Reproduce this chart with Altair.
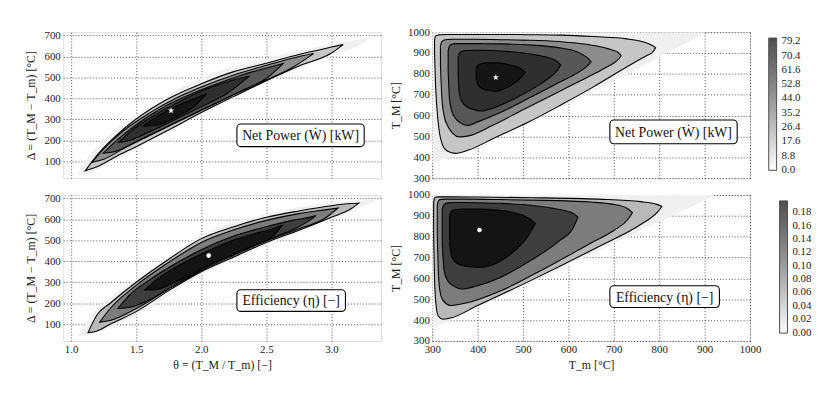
import altair as alt
import pandas as pd

FONT = "Liberation Serif"

# ---------------- Top-left: net power, theta vs Delta ----------------
tl_halo_x  = [1.05, 1.12, 1.3, 1.6, 2.0, 2.5, 3.0, 3.2, 3.3]
tl_halo_hi = [35, 110, 230, 360, 500, 590, 660, 680, 690]
tl_halo_lo = [35, 40, 90, 195, 325, 475, 605, 650, 690]
tl_c1_x  = [1.11, 1.2, 1.35, 1.5, 1.75, 2.0, 2.25, 2.5, 2.75, 3.0, 3.09]
tl_c1_hi = [56, 130, 225, 302, 400, 470, 528, 568, 610, 645, 657]
tl_c1_lo = [56, 75, 125, 170, 250, 333, 410, 485, 555, 617, 657]
tl_c2_x  = [1.16, 1.25, 1.4, 1.6, 1.8, 2.0, 2.25, 2.5, 2.7, 2.862]
tl_c2_hi = [95, 160, 245, 330, 400, 455, 512, 558, 592, 614]
tl_c2_lo = [95, 110, 160, 222, 283, 343, 418, 488, 548, 614]
tl_c3_x  = [1.248, 1.35, 1.5, 1.7, 1.9, 2.1, 2.3, 2.5, 2.63]
tl_c3_hi = [139, 200, 275, 355, 415, 465, 510, 545, 567]
tl_c3_lo = [139, 150, 195, 255, 315, 375, 435, 495, 567]
tl_c4_x  = [1.362, 1.45, 1.6, 1.8, 2.0, 2.2, 2.37]
tl_c4_hi = [190, 240, 305, 375, 435, 480, 507]
tl_c4_lo = [190, 200, 240, 300, 360, 425, 507]
tl_c5_x  = [1.55, 1.65, 1.8, 1.95, 2.04]
tl_c5_hi = [268, 310, 360, 400, 422]
tl_c5_lo = [268, 272, 310, 365, 422]
tl_star = (1.768, 342)

# ---------------- Bottom-left: efficiency, theta vs Delta ----------------
bl_halo_x  = [1.06, 1.12, 1.3, 1.6, 2.0, 2.5, 3.0, 3.25, 3.35]
bl_halo_hi = [45, 110, 225, 355, 525, 625, 680, 690, 695]
bl_halo_lo = [45, 48, 85, 180, 335, 475, 600, 665, 695]
bl_c1_x  = [1.13, 1.2, 1.3, 1.5, 1.75, 2.0, 2.25, 2.5, 2.75, 3.0, 3.15, 3.21]
bl_c1_hi = [60, 145, 200, 300, 410, 508, 565, 610, 640, 665, 675, 677]
bl_c1_lo = [60, 68, 100, 160, 260, 350, 420, 490, 548, 610, 650, 677]
bl_c2_x  = [1.22, 1.3, 1.5, 1.75, 2.0, 2.25, 2.5, 2.75, 2.95, 3.05]
bl_c2_hi = [110, 175, 285, 395, 490, 550, 595, 627, 645, 654]
bl_c2_lo = [110, 118, 175, 268, 355, 428, 497, 555, 605, 654]
bl_c3_x  = [1.36, 1.45, 1.6, 1.75, 2.0, 2.25, 2.5, 2.7, 2.82, 2.88]
bl_c3_hi = [175, 240, 310, 370, 455, 520, 565, 595, 608, 618]
bl_c3_lo = [175, 180, 215, 270, 360, 435, 500, 550, 590, 618]
bl_c4_x  = [1.565, 1.65, 1.8, 2.0, 2.2, 2.4, 2.55, 2.62]
bl_c4_hi = [263, 310, 370, 435, 490, 530, 555, 570]
bl_c4_lo = [263, 265, 300, 365, 420, 475, 520, 570]
bl_dot = (2.057, 427)

# ---------------- Top-right: net power, T_m vs T_M ----------------
tr_halo_x  = [300, 330, 900]
tr_halo_hi = [1000, 1000, 1000]
tr_halo_lo = [370, 395, 995]
tr_c1_x  = [305, 307, 310, 315, 322, 333, 351, 380, 438, 511, 584, 656, 729, 770, 786, 792]
tr_c1_hi = [960, 982, 985, 987, 988, 989, 989, 989, 989, 988, 986, 979, 968, 950, 935, 926]
tr_c1_lo = [900, 760, 640, 530, 462, 430, 419, 435, 494, 568, 652, 739, 834, 885, 905, 926]
tr_c2_x  = [318, 321, 326, 334, 345, 360, 380, 430, 500, 580, 640, 680, 700, 712, 716]
tr_c2_hi = [935, 955, 962, 965, 966, 966, 966, 965, 962, 955, 942, 925, 912, 898, 887]
tr_c2_lo = [840, 690, 600, 550, 515, 498, 503, 550, 628, 716, 782, 827, 852, 875, 887]
tr_c3_x  = [335, 338, 343, 350, 362, 378, 400, 450, 520, 580, 620, 640, 650]
tr_c3_hi = [910, 935, 942, 945, 945, 945, 945, 944, 938, 925, 905, 880, 858]
tr_c3_lo = [810, 680, 620, 590, 565, 553, 570, 615, 692, 760, 805, 835, 858]
tr_c4_x  = [357, 360, 366, 375, 390, 405, 430, 480, 530, 560, 575, 583]
tr_c4_hi = [880, 900, 908, 912, 913, 913, 912, 905, 890, 875, 860, 843]
tr_c4_lo = [790, 700, 665, 645, 630, 622, 633, 680, 740, 785, 815, 843]
tr_c5_x  = [397, 400, 410, 425, 440, 460, 480, 495, 505]
tr_c5_hi = [825, 840, 850, 853, 853, 848, 838, 825, 808]
tr_c5_lo = [775, 752, 730, 720, 717, 730, 755, 782, 808]
tr_star = (440, 783)

# ---------------- Bottom-right: efficiency, T_m vs T_M ----------------
br_halo_x  = [300, 320, 920]
br_halo_hi = [1000, 1000, 1000]
br_halo_lo = [360, 380, 995]
br_c1_x  = [303, 305, 308, 313, 324, 340, 400, 520, 665, 760, 795, 806]
br_c1_hi = [960, 985, 990, 991, 991, 991, 990, 987, 980, 968, 955, 945]
br_c1_lo = [800, 600, 480, 420, 404, 410, 470, 593, 751, 860, 915, 945]
br_c2_x  = [311, 314, 320, 330, 342, 380, 450, 550, 650, 700, 730, 741]
br_c2_hi = [950, 974, 979, 980, 980, 980, 978, 974, 966, 955, 935, 915]
br_c2_lo = [820, 600, 510, 480, 470, 485, 540, 650, 770, 830, 880, 915]
br_c3_x  = [322, 326, 335, 350, 364, 400, 450, 520, 580, 610, 621]
br_c3_hi = [935, 955, 962, 964, 964, 963, 960, 950, 930, 912, 894]
br_c3_lo = [760, 640, 585, 560, 549, 565, 605, 690, 780, 840, 894]
br_c4_x  = [338, 342, 350, 370, 404, 440, 480, 510, 527]
br_c4_hi = [900, 922, 930, 932, 932, 928, 915, 892, 864]
br_c4_lo = [770, 710, 680, 660, 653, 672, 730, 800, 864]
br_dot = (404, 832)

# colour bars
power_ticks = [0.0, 8.8, 17.6, 26.4, 35.2, 44.0, 52.8, 61.6, 70.4, 79.2]
power_dom = [-0.3, 81.2]
eff_ticks = [0.00, 0.02, 0.04, 0.06, 0.08, 0.10, 0.12, 0.14, 0.16, 0.18]
eff_dom = [-0.0008, 0.197]

power_fills = ["#c6c6c6", "#8c8c8c", "#575757", "#2f2f2f", "#151515"]
eff_fills = ["#b9b9b9", "#7c7c7c", "#3e3e3e", "#141414"]

STAR = ("M0,-1L0.2245,-0.309L0.951,-0.309L0.363,0.118L0.588,0.809L0,0.382"
        "L-0.588,0.809L-0.363,0.118L-0.951,-0.309L-0.2245,-0.309Z")

W, H = 322, 148


def mk_axis(values, fmt, title, labels, extent, title_pad, orient):
    kw = dict(values=values, grid=True, gridDash=[1, 2], gridColor="#222",
              gridWidth=0.8, ticks=False, domain=False, labelFont=FONT,
              labelFontSize=11, labelColor="#222", labelOverlap=False,
              titleFont=FONT, titleFontSize=12, titleFontWeight="normal",
              titleColor="#222", minExtent=extent, maxExtent=extent,
              labels=labels, labelPadding=3)
    if fmt:
        kw["format"] = fmt
    if orient == "x":
        kw["labelFlush"] = False
    if title:
        kw["title"] = title
        kw["titlePadding"] = title_pad
    else:
        kw["title"] = None
    return alt.Axis(**kw)


def panel(halo, contours, fills, marker, shape, msize, xdom, ydom,
          xaxis, yaxis, box, label, legend=None):
    xs = alt.Scale(domain=xdom, nice=False, zero=False)
    ys = alt.Scale(domain=ydom, nice=False, zero=False)

    def enc(ch):
        return ch.encode(x=alt.X("x:Q", scale=xs, axis=xaxis),
                         y=alt.Y("lo:Q", scale=ys, axis=yaxis),
                         y2="hi:Q")

    layers = []
    hx, hhi, hlo = halo
    layers.append(enc(alt.Chart(pd.DataFrame({"x": hx, "lo": hlo, "hi": hhi}))
                      .mark_area(fill="#f0f0f0", clip=True, interpolate="monotone")))
    for (cx, chi, clo), f in zip(contours, fills):
        df = pd.DataFrame({"x": cx, "lo": clo, "hi": chi})
        layers.append(enc(alt.Chart(df).mark_area(
            fill=f, stroke="black", strokeWidth=1.1, clip=True,
            interpolate="monotone")))
    mdf = pd.DataFrame({"x": [marker[0]], "lo": [marker[1]]})
    layers.append(alt.Chart(mdf).mark_point(
        shape=shape, filled=True, color="white", opacity=1, size=msize).encode(
        x=alt.X("x:Q", scale=xs, axis=xaxis),
        y=alt.Y("lo:Q", scale=ys, axis=yaxis)))
    bx0, bx1, by0, by1 = box
    one = pd.DataFrame({"k": [0]})
    layers.append(alt.Chart(one).mark_rect(
        fill="white", stroke="black", strokeWidth=1.1, cornerRadius=4).encode(
        x=alt.value(bx0), x2=alt.value(bx1), y=alt.value(by0), y2=alt.value(by1)))
    layers.append(alt.Chart(one).mark_text(
        font=FONT, fontSize=14, color="#111", align="center", baseline="middle").encode(
        x=alt.value((bx0 + bx1) / 2), y=alt.value((by0 + by1) / 2 + 1),
        text=alt.value(label)))
    if legend is not None:
        dom, ticks, fmt = legend
        ldf = pd.DataFrame({"v": dom})
        layers.append(alt.Chart(ldf).mark_point(size=0, filled=True, clip=True).encode(
            x=alt.value(-500), y=alt.value(-500),
            color=alt.Color("v:Q", scale=alt.Scale(domain=dom, range=["white", "black"]),
                            legend=alt.Legend(orient="right", offset=12, padding=6,
                                              direction="vertical", title=None,
                                              gradientLength=134, gradientThickness=8,
                                              gradientStrokeColor="black",
                                              gradientStrokeWidth=1,
                                              values=ticks, format=fmt,
                                              labelFont=FONT, labelFontSize=11,
                                              labelColor="#222", labelOffset=5,
                                              labelOverlap=False))))
    return alt.layer(*layers).properties(width=W, height=H)


theta_ticks = [1.0, 1.5, 2.0, 2.5, 3.0]
delta_ticks = [100, 200, 300, 400, 500, 600, 700]
temp_ticks = [300, 400, 500, 600, 700, 800, 900, 1000]

left_ytitle = "Δ = (T_M − T_m)  [°C]"
right_ytitle = "T_M  [°C]"

tl = panel((tl_halo_x, tl_halo_hi, tl_halo_lo),
           [(tl_c1_x, tl_c1_hi, tl_c1_lo), (tl_c2_x, tl_c2_hi, tl_c2_lo),
            (tl_c3_x, tl_c3_hi, tl_c3_lo), (tl_c4_x, tl_c4_hi, tl_c4_lo),
            (tl_c5_x, tl_c5_hi, tl_c5_lo)],
           power_fills, tl_star, STAR, 45, [0.94, 3.38], [20, 716],
           mk_axis(theta_ticks, ".1f", None, False, 0, 0, "x"),
           mk_axis(delta_ticks, "d", left_ytitle, True, 22, 4, "y"),
           (176, 305, 93, 116), "Net Power (Ẇ)  [kW]")

bl = panel((bl_halo_x, bl_halo_hi, bl_halo_lo),
           [(bl_c1_x, bl_c1_hi, bl_c1_lo), (bl_c2_x, bl_c2_hi, bl_c2_lo),
            (bl_c3_x, bl_c3_hi, bl_c3_lo), (bl_c4_x, bl_c4_hi, bl_c4_lo)],
           eff_fills, bl_dot, "circle", 22, [0.94, 3.38], [20, 716],
           mk_axis(theta_ticks, ".1f", "θ = (T_M / T_m)  [−]", True, 16, 3, "x"),
           mk_axis(delta_ticks, "d", left_ytitle, True, 22, 4, "y"),
           (176, 286, 96, 118), "Efficiency  (η)  [−]")

tr = panel((tr_halo_x, tr_halo_hi, tr_halo_lo),
           [(tr_c1_x, tr_c1_hi, tr_c1_lo), (tr_c2_x, tr_c2_hi, tr_c2_lo),
            (tr_c3_x, tr_c3_hi, tr_c3_lo), (tr_c4_x, tr_c4_hi, tr_c4_lo),
            (tr_c5_x, tr_c5_hi, tr_c5_lo)],
           power_fills, tr_star, STAR, 45, [300, 1000], [300, 1000],
           mk_axis(temp_ticks, "d", None, False, 0, 0, "x"),
           mk_axis(temp_ticks, "d", right_ytitle, True, 26, 4, "y"),
           (180, 309, 89, 113), "Net Power (Ẇ)  [kW]",
           legend=(power_dom, power_ticks, ".1f"))

br = panel((br_halo_x, br_halo_hi, br_halo_lo),
           [(br_c1_x, br_c1_hi, br_c1_lo), (br_c2_x, br_c2_hi, br_c2_lo),
            (br_c3_x, br_c3_hi, br_c3_lo), (br_c4_x, br_c4_hi, br_c4_lo)],
           eff_fills, br_dot, "circle", 22, [300, 1000], [300, 1000],
           mk_axis(temp_ticks, "d", "T_m  [°C]", True, 16, 3, "x"),
           mk_axis(temp_ticks, "d", right_ytitle, True, 26, 4, "y"),
           (180, 291, 92, 114), "Efficiency  (η)  [−]",
           legend=(eff_dom, eff_ticks, ".2f"))

chart = alt.vconcat(
    alt.hconcat(tl, tr, spacing=7),
    alt.hconcat(bl, br, spacing=7),
    spacing=4,
).resolve_scale(color="independent").properties(
    padding={"left": 16, "top": 15, "right": 5, "bottom": 5}
).configure_view(stroke="black", strokeWidth=1.2).configure(background="white")

chart.save("out.html", embed_options={"renderer": "svg", "actions": False})
